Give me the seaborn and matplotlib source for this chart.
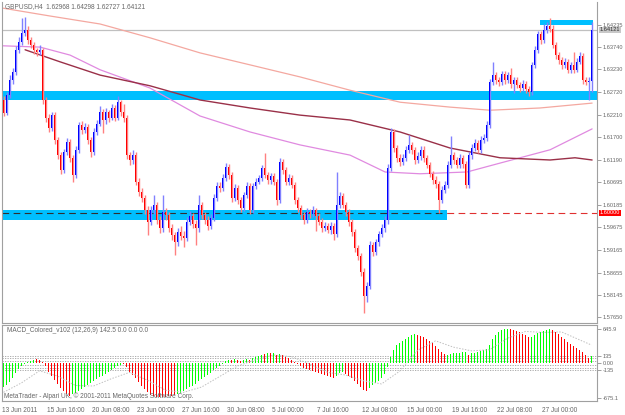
import numpy as np
import pandas as pd
import matplotlib
matplotlib.use("Agg")
import matplotlib.pyplot as plt
import matplotlib.transforms as mtransforms
import seaborn as sns

# ---------------- data ----------------
first_open = 1.6254
close = [1.6225, 1.6265, 1.6299, 1.6317, 1.6367, 1.6385, 1.6405, 1.6412, 1.6389, 1.6378,
         1.6367, 1.6362, 1.6367, 1.6254, 1.6214, 1.6191, 1.6221, 1.6164, 1.6130, 1.6097,
         1.6137, 1.6160, 1.6124, 1.6085, 1.6142, 1.6198, 1.6187, 1.6193, 1.6164, 1.6137,
         1.6182, 1.6200, 1.6227, 1.6209, 1.6227, 1.6214, 1.6236, 1.6214, 1.6249, 1.6227,
         1.6214, 1.6130, 1.6119, 1.6130, 1.6070, 1.6047, 1.6034, 1.6007, 1.5980, 1.6007,
         1.6018, 1.5984, 1.5966, 1.6002, 1.5995, 1.5966, 1.5950, 1.5934, 1.5957, 1.5948,
         1.5944, 1.5980, 1.5993, 1.5975, 1.5966, 1.6018, 1.5995, 1.5984, 1.5971, 1.5989,
         1.6034, 1.6061, 1.6056, 1.6079, 1.6103, 1.6085, 1.6034, 1.6056, 1.6029, 1.6011,
         1.6040, 1.6061, 1.6007, 1.6061, 1.6070, 1.6079, 1.6101, 1.6085, 1.6074, 1.6083,
         1.6070, 1.6029, 1.6115, 1.6097, 1.6070, 1.6079, 1.6063, 1.6029, 1.6011, 1.5995,
         1.5984, 1.6002, 1.5997, 1.6007, 1.5993, 1.5980, 1.5966, 1.5971, 1.5962, 1.5971,
         1.5952, 1.6018, 1.6038, 1.6018, 1.6002, 1.5980, 1.5957, 1.5921, 1.5903, 1.5867,
         1.5813, 1.5836, 1.5928, 1.5912, 1.5934, 1.5952, 1.5966, 1.5984, 1.6101, 1.6182,
         1.6146, 1.6124, 1.6115, 1.6124, 1.6142, 1.6153, 1.6142, 1.6119, 1.6128, 1.6142,
         1.6124, 1.6108, 1.6088, 1.6074, 1.6065, 1.6029, 1.6052, 1.6063, 1.6108, 1.6130,
         1.6119, 1.6108, 1.6124, 1.6110, 1.6063, 1.6130, 1.6146, 1.6157, 1.6142, 1.6164,
         1.6169, 1.6198, 1.6295, 1.6310, 1.6299, 1.6295, 1.6313, 1.6299, 1.6310, 1.6290,
         1.6299, 1.6288, 1.6281, 1.6290, 1.6279, 1.6272, 1.6333, 1.6367, 1.6403, 1.6389,
         1.6412, 1.6421, 1.6414, 1.6378, 1.6355, 1.6344, 1.6333, 1.6340, 1.6322, 1.6333,
         1.6322, 1.6340, 1.6353, 1.6299, 1.6295, 1.62968, 1.64121]
high = [1.6262, 1.6272, 1.6310, 1.6326, 1.6375, 1.6396, 1.6439, 1.6441, 1.6420, 1.6396,
        1.6385, 1.6372, 1.6378, 1.6372, 1.6260, 1.6222, 1.6228, 1.6227, 1.6170, 1.6137,
        1.6144, 1.6168, 1.6166, 1.6130, 1.6150, 1.6205, 1.6206, 1.6202, 1.6200, 1.6170,
        1.6190, 1.6208, 1.6240, 1.6234, 1.6235, 1.6232, 1.6245, 1.6242, 1.6263, 1.6255,
        1.6245, 1.6220, 1.6136, 1.6142, 1.6136, 1.6078, 1.6055, 1.6040, 1.6015, 1.6015,
        1.6040, 1.6025, 1.5992, 1.6040, 1.6012, 1.6003, 1.5975, 1.5958, 1.5966, 1.5970,
        1.5960, 1.5990, 1.6005, 1.6000, 1.5985, 1.6040, 1.6025, 1.6003, 1.5992, 1.5998,
        1.6042, 1.6070, 1.6070, 1.6088, 1.6112, 1.6110, 1.6092, 1.6065, 1.6062, 1.6036,
        1.6048, 1.6070, 1.6068, 1.6068, 1.6078, 1.6086, 1.6108, 1.6135, 1.6092, 1.6090,
        1.6090, 1.6076, 1.6124, 1.6122, 1.6104, 1.6088, 1.6086, 1.6070, 1.6036, 1.6018,
        1.6003, 1.6010, 1.6008, 1.6015, 1.6012, 1.6000, 1.5988, 1.5980, 1.5978, 1.5980,
        1.5978, 1.6092, 1.6048, 1.6045, 1.6025, 1.6008, 1.5986, 1.5964, 1.5928, 1.5910,
        1.5875, 1.5845, 1.5936, 1.5935, 1.5942, 1.5960, 1.5975, 1.5992, 1.6110, 1.6191,
        1.6188, 1.6152, 1.6132, 1.6132, 1.6150, 1.6175, 1.6160, 1.6148, 1.6136, 1.6150,
        1.6150, 1.6130, 1.6115, 1.6095, 1.6082, 1.6072, 1.6060, 1.6072, 1.6116, 1.6173,
        1.6138, 1.6125, 1.6132, 1.6130, 1.6116, 1.6138, 1.6154, 1.6166, 1.6164, 1.6172,
        1.6178, 1.6206, 1.6302, 1.6340, 1.6318, 1.6306, 1.6320, 1.6320, 1.6318, 1.6326,
        1.6306, 1.6306, 1.6295, 1.6298, 1.6297, 1.6286, 1.6340, 1.6375, 1.6410, 1.6410,
        1.6425, 1.6430, 1.6439, 1.6422, 1.6385, 1.6362, 1.6350, 1.6348, 1.6346, 1.6340,
        1.6362, 1.6348, 1.6362, 1.6360, 1.6306, 1.6305, 1.64298]
low = [1.6218, 1.6220, 1.6258, 1.6290, 1.6310, 1.6360, 1.6378, 1.6398, 1.6380, 1.6370,
       1.6358, 1.6353, 1.6355, 1.6245, 1.6205, 1.6182, 1.6185, 1.6155, 1.6122, 1.6088,
       1.6090, 1.6130, 1.6115, 1.6070, 1.6078, 1.6135, 1.6178, 1.6180, 1.6155, 1.6125,
       1.6130, 1.6175, 1.6195, 1.6180, 1.6200, 1.6205, 1.6208, 1.6206, 1.6208, 1.6218,
       1.6205, 1.6122, 1.6108, 1.6110, 1.6062, 1.6038, 1.6025, 1.5998, 1.5950, 1.5972,
       1.5998, 1.5975, 1.5955, 1.5958, 1.5985, 1.5957, 1.5940, 1.5905, 1.5925, 1.5938,
       1.5923, 1.5936, 1.5972, 1.5966, 1.5928, 1.5958, 1.5986, 1.5975, 1.5962, 1.5963,
       1.5982, 1.6026, 1.6048, 1.6050, 1.6072, 1.6076, 1.6025, 1.6026, 1.6020, 1.6002,
       1.6004, 1.6034, 1.5998, 1.6000, 1.6054, 1.6064, 1.6072, 1.6078, 1.6065, 1.6066,
       1.6062, 1.6018, 1.6022, 1.6088, 1.6062, 1.6063, 1.6055, 1.6020, 1.6002, 1.5986,
       1.5975, 1.5978, 1.5988, 1.5990, 1.5960, 1.5972, 1.5958, 1.5960, 1.5955, 1.5952,
       1.5940, 1.5945, 1.6010, 1.6010, 1.5994, 1.5970, 1.5948, 1.5912, 1.5894, 1.5858,
       1.5775, 1.5800, 1.5828, 1.5904, 1.5905, 1.5926, 1.5945, 1.5958, 1.5975, 1.6094,
       1.6138, 1.6115, 1.6106, 1.6108, 1.6116, 1.6135, 1.6133, 1.6110, 1.6112, 1.6120,
       1.6115, 1.6100, 1.6080, 1.6065, 1.6056, 1.6000, 1.6022, 1.6045, 1.6056, 1.6100,
       1.6110, 1.6100, 1.6100, 1.6102, 1.6055, 1.6056, 1.6122, 1.6140, 1.6134, 1.6135,
       1.6157, 1.6162, 1.6190, 1.6288, 1.6290, 1.6286, 1.6288, 1.6290, 1.6292, 1.6282,
       1.6270, 1.6280, 1.6272, 1.6274, 1.6270, 1.6264, 1.6265, 1.6326, 1.6360, 1.6380,
       1.6382, 1.6405, 1.6406, 1.6370, 1.6346, 1.6335, 1.6324, 1.6326, 1.6314, 1.6315,
       1.6314, 1.6316, 1.6334, 1.6290, 1.6288, 1.6254, 1.62727]

macd = [-456, -418, -361, -285, -190, -114, -57, -19, 19, 38,
        57, 66, 57, 19, -57, -171, -247, -323, -399, -475,
        -532, -589, -627, -600, -570, -532, -494, -456, -418, -380,
        -342, -304, -266, -247, -209, -171, -133, -95, -57, -38,
        -19, -76, -171, -228, -285, -361, -437, -494, -551, -608,
        -627, -646, -655, -646, -646, -627, -627, -608, -589, -570,
        -532, -494, -456, -437, -399, -342, -304, -266, -228, -190,
        -133, -95, -57, -28, 38, 57, 57, 76, 57, 38,
        57, 76, 57, 95, 114, 133, 152, 171, 190, 190,
        190, 152, 171, 152, 114, 95, 57, 19, -19, -57,
        -95, -114, -133, -152, -171, -190, -209, -228, -247, -266,
        -285, -247, -190, -171, -209, -247, -285, -342, -399, -456,
        -513, -532, -475, -418, -380, -342, -285, -209, -76, 114,
        247, 342, 380, 418, 456, 494, 532, 551, 532, 513,
        494, 456, 418, 380, 323, 266, 209, 171, 152, 171,
        180, 190, 196, 203, 215, 152, 184, 196, 209, 228,
        247, 266, 342, 456, 532, 589, 627, 646, 655, 646,
        627, 608, 589, 560, 532, 494, 494, 532, 570, 598,
        617, 636, 646, 627, 589, 551, 494, 456, 399, 361,
        323, 285, 247, 209, 152, 95, 133]
macd_color_runs = [("G", 11), ("R", 12), ("G", 17), ("R", 18), ("G", 18),
                   ("R", 1), ("G", 1), ("R", 2), ("G", 2), ("R", 1), ("G", 4),
                   ("R", 1), ("G", 1), ("R", 1), ("G", 1), ("R", 1), ("G", 1),
                   ("R", 18), ("G", 3), ("R", 8), ("G", 16), ("R", 10), ("G", 7),
                   ("R", 1), ("G", 13), ("R", 7), ("G", 7), ("R", 13), ("G", 1)]
signal_bar = [0, 6, 12, 18, 24, 30, 36, 42, 48, 54, 60, 66, 72, 78, 84, 90, 96, 102,
              108, 114, 120, 126, 132, 138, 144, 150, 156, 162, 168, 174, 180, 186, 192, 196]
signal_val = [-560, -380, -150, -250, -430, -440, -300, -180, -330, -520, -560, -460,
              -260, -60, 60, 150, 120, -20, -180, -230, -340, -400, -160, 240, 420,
              300, 230, 250, 470, 600, 580, 590, 440, 340]

ma_salmon_bar = [-0.5, 15.5, 32.2, 48.8, 65.5, 82.2, 98.8, 115.5, 132.2, 148.8, 162.2, 178.8, 196.2]
ma_salmon_val = [1.6461, 1.6443, 1.6425, 1.6394, 1.6360, 1.6333, 1.6306, 1.6276, 1.6249,
                 1.6238, 1.6231, 1.6236, 1.6247]
ma_orchid_bar = [-0.5, 12.2, 22.2, 32.2, 48.8, 65.5, 82.2, 98.8, 115.5, 127.2, 138.8,
                 154.5, 165.5, 182.2, 196.2]
ma_orchid_val = [1.6376, 1.6373, 1.6355, 1.6322, 1.6281, 1.6218, 1.6182, 1.6153, 1.6130,
                 1.6092, 1.6088, 1.6092, 1.6112, 1.6142, 1.6189]
ma_maroon_bar = [7.2, 18.8, 32.2, 48.8, 65.5, 82.2, 98.8, 115.5, 132.2, 148.8, 165.5,
                 182.2, 190.5, 196.2]
ma_maroon_val = [1.6367, 1.6340, 1.6310, 1.6286, 1.6254, 1.6236, 1.6220, 1.6209, 1.6182,
                 1.6146, 1.6124, 1.6119, 1.6124, 1.6119]

price_ticks = [1.64235, 1.63740, 1.63230, 1.62720, 1.62210, 1.61700, 1.61190, 1.60695,
               1.60185, 1.59675, 1.59165, 1.58655, 1.58145, 1.57650]
date_labels = ["13 Jun 2011", "15 Jun 16:00", "20 Jun 08:00", "23 Jun 00:00",
               "27 Jun 16:00", "30 Jun 08:00", "5 Jul 00:00", "7 Jul 16:00",
               "12 Jul 08:00", "15 Jul 00:00", "19 Jul 16:00", "22 Jul 08:00",
               "27 Jul 00:00"]
bid_price = 1.64121
level_price = 1.60000
band_upper = (1.6253, 1.6275)
band_lower = (1.5985, 1.6006)
band_lower_end = 147.8
band_top = (1.6423, 1.6434)
band_top_span = (178.8, 196.5)
macd_levels = [135, 90, 45, -45, -90, -135]
title = "GBPUSD,H4  1.62968 1.64298 1.62727 1.64121"
macd_title = "MACD_Colored_v102 (12,26,9) 142.5 0.0 0.0 0.0"
footer = "MetaTrader - Alpari UK, \u00a9 2001-2011 MetaQuotes Software Corp."

# ---------------- figure ----------------
sns.set_style("white")
plt.rcParams["font.family"] = ["Liberation Sans", "DejaVu Sans"]
FS = 4.7
FSR = 4.1
TXT = "#666666"
W, H = 625, 415
fig = plt.figure(figsize=(W / 100, H / 100), dpi=100)
fig.patch.set_facecolor("white")

ax = fig.add_axes([2 / W, 1 - 323 / H, 595 / W, 321 / H])
ax2 = fig.add_axes([2 / W, 1 - 401 / H, 595 / W, 76 / H])

n = len(close)
bars = np.arange(n)
opens = [first_open] + close[:-1]
df = pd.DataFrame({"bar": bars, "open": opens, "close": close, "high": high, "low": low})
df["up"] = df["close"] >= df["open"]

xmin, xmax = -0.5, 197.83
ax.set_xlim(xmin, xmax)
ax.set_ylim(1.57522, 1.64745)

# bands and horizontal lines
band_c = "#00BFFF"
ax.axhspan(band_upper[0], band_upper[1], color=band_c, lw=0, zorder=1)
ax.fill_between([xmin, band_lower_end], band_lower[0], band_lower[1], color=band_c, lw=0, zorder=1)
ax.fill_between(list(band_top_span), band_top[0], band_top[1], color=band_c, lw=0, zorder=1)
ax.axhline(bid_price, color="#c0c0c0", lw=0.9, zorder=1)
ax.plot([xmin, band_lower_end], [level_price, level_price], color="#303030", lw=0.8,
        dashes=(6, 4), zorder=2)
ax.plot([band_lower_end, xmax], [level_price, level_price], color="#e03030", lw=0.8,
        dashes=(6, 4), zorder=2)

# moving averages
sns.lineplot(x=ma_salmon_bar, y=ma_salmon_val, ax=ax, color="#f4a8a0", lw=0.9, zorder=2)
sns.lineplot(x=ma_orchid_bar, y=ma_orchid_val, ax=ax, color="#e08ae0", lw=0.9, zorder=2)
sns.lineplot(x=ma_maroon_bar, y=ma_maroon_val, ax=ax, color="#9a3048", lw=1.0, zorder=2)

# candles
up = df[df["up"]]
dn = df[~df["up"]]
ax.vlines(up["bar"], up["low"], up["high"], color="#8080ff", lw=1.0, zorder=3)
ax.vlines(dn["bar"], dn["low"], dn["high"], color="#ff8080", lw=1.0, zorder=3)
bw = 0.6
body_up = np.maximum((up["close"] - up["open"]).values, 0.00006)
body_dn = np.maximum((dn["open"] - dn["close"]).values, 0.00006)
ax.bar(up["bar"], body_up, bottom=up["open"], width=bw, color="#0000ff", lw=0, zorder=4)
ax.bar(dn["bar"], body_dn, bottom=dn["close"], width=bw, color="#ff0000", lw=0, zorder=4)

# right price axis
ax.yaxis.tick_right()
ax.set_yticks(price_ticks)
ax.set_yticklabels([f"{p:.5f}" for p in price_ticks])
ax.tick_params(axis="y", length=3, width=0.6, color="#909090", labelsize=FSR,
               labelcolor=TXT, pad=1)
ax.set_xticks([])
ax.spines["top"].set_visible(False)
for s in ["left", "right", "bottom"]:
    ax.spines[s].set_color("#a0a0a0")
    ax.spines[s].set_linewidth(0.8)
ax.set_xlabel("")
ax.set_ylabel("")

trans = mtransforms.blended_transform_factory(ax.transAxes, ax.transData)
ax.text(1.0045, bid_price, f"{bid_price:.5f}", transform=trans, fontsize=FSR, color="#303030",
        va="center", ha="left", bbox=dict(boxstyle="square,pad=0.12", fc="#c8c8c8", ec="none"))
ax.text(1.0045, level_price, f"{level_price:.5f}", transform=trans, fontsize=FSR, color="white",
        va="center", ha="left", bbox=dict(boxstyle="square,pad=0.12", fc="#ff0000", ec="none"))
fig.text(5 / W, 1 - 7 / H, title, fontsize=FS, color=TXT, va="center", ha="left")

# ---------------- MACD panel ----------------
colors = []
for c, k in macd_color_runs:
    colors += [("#00ff00" if c == "G" else "#ff0000")] * k
ax2.set_xlim(xmin, xmax)
ax2.set_ylim(-725, 722)
for lv in macd_levels:
    ax2.axhline(lv, color="#a0a0a0", lw=0.6, ls=(0, (1.5, 1.5)), zorder=1)
ax2.bar(bars, macd, width=0.62, color=colors, lw=0, zorder=2)
sns.lineplot(x=signal_bar, y=signal_val, ax=ax2, color="#c0c0c0", lw=0.7,
             linestyle=(0, (1.5, 1.5)), zorder=3)

ax2.yaxis.tick_right()
ax2.set_yticks([645.9, 135, 0, -135, -675.1])
ax2.set_yticklabels(["645.9", "135", "0.00", "-135", "-675.1"])
ax2.tick_params(axis="y", length=3, width=0.6, color="#909090", labelsize=FSR,
                labelcolor=TXT, pad=1)
ax2.set_xticks([xmin + 15 * k for k in range(len(date_labels))])
ax2.set_xticklabels(date_labels, ha="left")
ax2.tick_params(axis="x", length=3, width=0.6, color="#909090", labelsize=FS,
                labelcolor=TXT, pad=1.5)
for s in ["top", "left", "right", "bottom"]:
    ax2.spines[s].set_color("#a0a0a0")
    ax2.spines[s].set_linewidth(0.8)
ax2.set_xlabel("")
ax2.set_ylabel("")
ax2.text(5 / 595, 1 - 6 / 76, macd_title, transform=ax2.transAxes, fontsize=FS,
         color=TXT, va="center", ha="left")
ax2.text(2 / 595, 5 / 76, footer, transform=ax2.transAxes, fontsize=FS,
         color=TXT, va="center", ha="left")

fig.savefig("out.png", dpi=100, facecolor="white")
